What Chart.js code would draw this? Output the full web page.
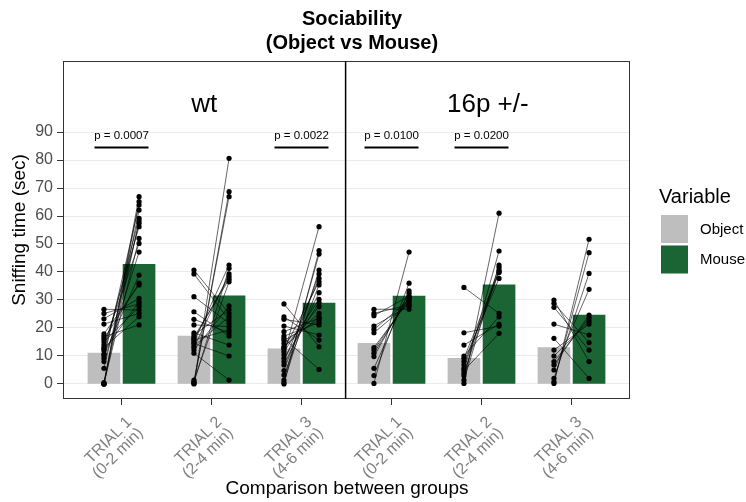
<!DOCTYPE html>
<html>
<head>
<meta charset="utf-8">
<script src="https://cdn.jsdelivr.net/npm/chart.js@4.4.1/dist/chart.umd.min.js"></script>
<style>
  html, body { margin: 0; padding: 0; background: #fff; }
</style>
</head>
<body>
<canvas id="chart" width="746" height="502"></canvas>
<script>
// ---- data ----
const trialLabels = [['TRIAL 1', '(0-2 min)'], ['TRIAL 2', '(2-4 min)'], ['TRIAL 3', '(4-6 min)']];
const genotypes = ['wt', '16p +/-'];
const seriesNames = ['Object', 'Mouse'];
const yTicks = [0, 10, 20, 30, 40, 50, 60, 70, 80, 90];

// bar heights: wt T1..T3, then 16p T1..T3
const objectMean = [11.0, 17.1, 12.6, 14.5, 9.2, 13.0];
const mouseMean = [42.7, 31.5, 28.9, 31.4, 35.4, 24.6];

// paired animals (object[i] <-> mouse[i]) per trial
const wtObject = [
  [0, 0, 0, 0.2, 0.5, 5.6, 8.0, 9.2, 10.2, 10.7, 11.9, 12.5, 13.0, 13.9, 15.0, 16.0, 16.9, 17.9, 21.4, 23.3, 25.2, 26.7],
  [0, 0.2, 0.5, 0.8, 1.4, 11.0, 12.1, 13.0, 13.6, 14.5, 14.9, 15.7, 16.0, 16.7, 17.5, 18.3, 21.1, 23.1, 25.8, 31.2, 39.3, 40.7],
  [0, 0.5, 1.4, 3.2, 4.8, 6.8, 8.0, 9.2, 10.4, 11.5, 12.4, 12.9, 13.3, 14.5, 15.5, 16.3, 17.1, 18.7, 20.7, 23.1, 24.0, 28.6]
];
const wtMouse = [
  [66.9, 58.3, 62.1, 52.0, 65.1, 57.4, 47.1, 63.9, 38.9, 59.2, 29.4, 56.2, 24.0, 50.2, 27.6, 36.0, 21.1, 35.4, 25.2, 30.6, 28.6, 26.4],
  [80.6, 68.7, 41.3, 66.9, 36.5, 1.4, 27.9, 39.3, 24.0, 10.0, 42.5, 19.3, 38.3, 37.4, 26.5, 13.9, 20.5, 18.3, 17.1, 21.7, 22.9, 25.2],
  [47.6, 40.7, 46.4, 35.4, 39.3, 32.6, 37.7, 29.0, 56.2, 30.2, 36.5, 27.6, 24.0, 25.2, 22.9, 5.2, 21.9, 23.5, 17.5, 21.1, 15.7, 13.3]
];
const hetObject = [
  [0.2, 3.0, 5.6, 9.8, 11.0, 12.1, 13.0, 18.3, 19.5, 20.7, 24.4, 25.2, 26.7],
  [0.2, 1.4, 2.9, 3.8, 4.8, 5.6, 6.8, 8.0, 9.2, 10.0, 13.9, 18.3, 34.5],
  [0.2, 0.8, 2.0, 5.0, 6.8, 8.0, 10.0, 12.1, 16.3, 21.4, 27.4, 28.8, 30.0]
];
const hetMouse = [
  [47.1, 36.0, 33.3, 32.4, 31.0, 30.6, 29.8, 28.8, 30.0, 27.9, 31.4, 28.3, 26.7],
  [61.0, 42.5, 47.5, 40.7, 18.1, 41.7, 39.8, 37.7, 40.2, 24.0, 21.4, 20.7, 25.2],
  [51.7, 46.9, 39.5, 33.8, 24.6, 23.5, 22.3, 21.4, 2.0, 17.5, 12.1, 14.8, 8.0]
];

const pValues = ['p = 0.0007', null, 'p = 0.0022', 'p = 0.0100', 'p = 0.0200', null];

// ---- layout / style ----
const FONT = "'Liberation Sans', Arial, sans-serif";
const GREY = '#bebebe';
const GREEN = '#1b6535';
const dodge = 0.195;        // half distance between the two bars of a trial
const panelSplit = 3.14;    // x value of the facet divider
const bracketY = 84.5;
const xPos = [0, 1, 2, 3, 4, 5].map(i => (i < 3 ? 0.65 + i : 3.65 + (i - 3)));

const objAll = wtObject.concat(hetObject);
const mouseAll = wtMouse.concat(hetMouse);

const datasets = [];

datasets.push({
  type: 'bar', label: seriesNames[0], order: 3, grouped: false, barThickness: 32,
  backgroundColor: GREY,
  data: xPos.map((c, i) => ({ x: c - dodge, y: objectMean[i] }))
});
datasets.push({
  type: 'bar', label: seriesNames[1], order: 3, grouped: false, barThickness: 32,
  backgroundColor: GREEN,
  data: xPos.map((c, i) => ({ x: c + dodge, y: mouseMean[i] }))
});

// paired lines + dots
xPos.forEach((c, g) => {
  const pts = [];
  objAll[g].forEach((o, i) => {
    pts.push({ x: c - dodge, y: o });
    pts.push({ x: c + dodge, y: mouseAll[g][i] });
    pts.push({ x: c + dodge, y: null });
  });
  datasets.push({
    type: 'line', order: 1, data: pts, spanGaps: false,
    borderColor: '#000', borderWidth: 0.6,
    pointRadius: 2.6, pointBackgroundColor: '#000', pointBorderWidth: 0,
    pointHoverRadius: 2.6
  });
});

// significance bars
xPos.forEach((c, g) => {
  if (!pValues[g]) return;
  datasets.push({
    type: 'line', order: 0,
    data: [{ x: c - 0.3, y: bracketY }, { x: c + 0.3, y: bracketY }],
    borderColor: '#000', borderWidth: 2, pointRadius: 0
  });
});

const decor = {
  id: 'decor',
  afterDatasetsDraw(chart) {
    const { ctx, chartArea: a, scales: { x, y } } = chart;
    ctx.save();
    // panel borders
    ctx.strokeStyle = '#333';
    ctx.lineWidth = 1;
    ctx.strokeRect(a.left + 0.5, a.top + 0.5, a.right - a.left - 1, a.bottom - a.top - 1);
    const sx = x.getPixelForValue(panelSplit);
    ctx.strokeStyle = '#000';
    ctx.lineWidth = 1.5;
    ctx.beginPath();
    ctx.moveTo(sx, a.top);
    ctx.lineTo(sx, a.bottom);
    ctx.stroke();

    // facet labels
    ctx.fillStyle = '#000';
    ctx.textAlign = 'center';
    ctx.textBaseline = 'alphabetic';
    ctx.font = '26px ' + FONT;
    ctx.fillText(genotypes[0], (a.left + sx) / 2, 112);
    ctx.fillText(genotypes[1], (sx + a.right) / 2, 112);

    // p-values
    ctx.font = '11.5px ' + FONT;
    xPos.forEach((c, g) => {
      if (!pValues[g]) return;
      ctx.fillText(pValues[g], x.getPixelForValue(c), y.getPixelForValue(bracketY) - 8);
    });
    ctx.restore();
  },
  afterDraw(chart) {
    const { ctx, chartArea: a } = chart;
    ctx.save();
    ctx.fillStyle = '#000';
    ctx.textAlign = 'center';
    ctx.textBaseline = 'alphabetic';
    // title
    ctx.font = 'bold 20px ' + FONT;
    ctx.fillText('Sociability', 352, 25);
    ctx.fillText('(Object vs Mouse)', 352, 48.5);
    // axis titles
    ctx.font = '19px ' + FONT;
    ctx.fillText('Comparison between groups', 347, 494);
    ctx.save();
    ctx.translate(20, (a.top + a.bottom) / 2);
    ctx.rotate(-Math.PI / 2);
    ctx.textBaseline = 'middle';
    ctx.fillText('Sniffing time (sec)', 0, 0);
    ctx.restore();

    // legend
    ctx.textAlign = 'left';
    ctx.font = '20px ' + FONT;
    ctx.fillText('Variable', 659, 203);
    ctx.fillStyle = GREY;
    ctx.fillRect(661, 215, 27, 28);
    ctx.fillStyle = GREEN;
    ctx.fillRect(661, 245.5, 27, 28);
    ctx.fillStyle = '#000';
    ctx.font = '15px ' + FONT;
    ctx.textBaseline = 'middle';
    ctx.fillText(seriesNames[0], 700, 229.5);
    ctx.fillText(seriesNames[1], 700, 259.5);
    ctx.restore();
  }
};

Chart.defaults.font.family = FONT;

new Chart(document.getElementById('chart').getContext('2d'), {
  type: 'bar',
  data: { datasets },
  options: {
    responsive: false,
    animation: false,
    layout: { padding: { top: 61, right: 116, bottom: 0, left: 0 } },
    plugins: {
      legend: { display: false },
      tooltip: { enabled: false }
    },
    scales: {
      x: {
        type: 'linear', min: 0, max: 6.3, offset: false,
        afterBuildTicks: s => { s.ticks = xPos.map(v => ({ value: v })); },
        afterFit: s => { s.height = 103; },
        grid: { offset: false, drawOnChartArea: false, color: '#333', tickColor: '#333', tickLength: 6 },
        border: { display: false },
        ticks: {
          autoSkip: false, minRotation: 45, maxRotation: 45, padding: 9, labelOffset: 8,
          color: '#7f7f7f', font: { size: 16, lineHeight: 0.98 },
          callback: (v, i) => trialLabels[i % 3]
        }
      },
      y: {
        type: 'linear', min: -5.36, max: 115.36,
        afterBuildTicks: s => { s.ticks = yTicks.map(v => ({ value: v })); },
        afterFit: s => { s.width = 63; },
        grid: { color: '#ebebeb', tickColor: '#333', tickLength: 6 },
        border: { display: false },
        ticks: { color: '#4d4d4d', font: { size: 16 }, padding: 4 }
      }
    }
  },
  plugins: [decor]
});
</script>
</body>
</html>
